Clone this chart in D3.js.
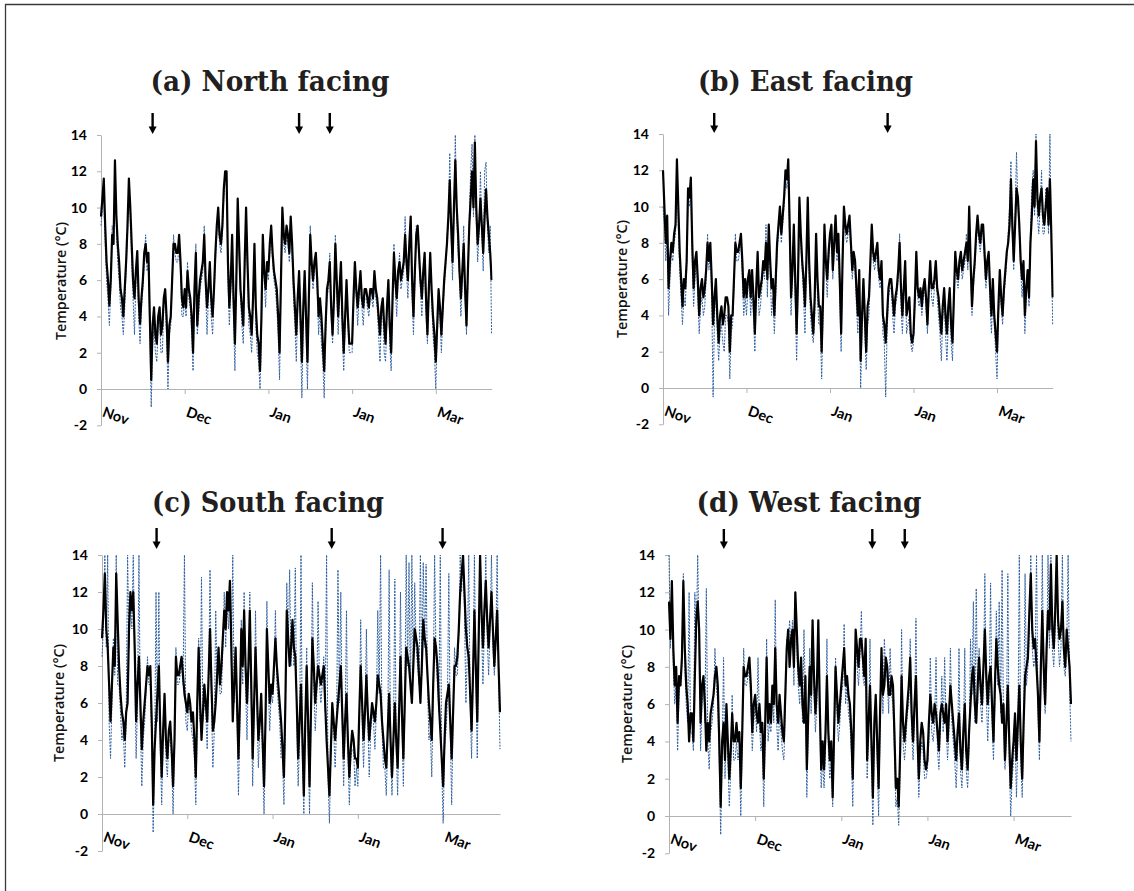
<!DOCTYPE html>
<html><head><meta charset="utf-8">
<script src="https://cdn.jsdelivr.net/npm/d3@7"></script>
<style>body{margin:0;background:#fff} svg{display:block}</style>
</head><body>
<svg id="c" width="1134" height="891"></svg>
<script>
// ---------- data ----------
const monthLabels = ["Nov","Dec","Jan","Jan","Mar"];
const monthTickIndex = [0,60,120,180,240];
const yTicks = [-2,0,2,4,6,8,10,12,14];
const panelTitles = ["(a) North facing","(b) East facing","(c) South facing","(d) West facing"];
const yAxisTitle = "Temperature (\u00B0C)";

const northBlack = [
 9.5,10.5,11.6,9,7,6,4.6,6,8.5,8,12.6,9.6,8,7,5.5,5,4,5.5,7,9,
 11.6,10,8,6,5,6.5,7.6,5,3.6,5,6,7.5,8,7,7.5,4,0.5,3.5,4.5,3,
 2.5,4,4.5,3,3.5,5,5.5,4,1.5,3.5,4,6,8,8,7.5,7.5,8.5,7,5,4.5,
 5.5,4.5,6.5,5.5,5,4,2,5.5,7.5,3.5,5,6,6.5,7,8.5,6,4.5,5.5,7,5,
 4,5.5,7.5,9,10,8.5,8,9,11,12,12,7,4.5,6,8.5,5,2.5,6,10.5,8,
 5.5,4.5,3.5,7,10,7,4.5,4,3,5,8,4.5,3,2.5,1,4,8.5,6.5,5.5,7,
 6.5,8,9,7.5,6.5,6,5.5,4,2,6,10,8.5,8,9,8.5,7.5,9.5,8,6,4.5,
 3,5,6.5,4,1.5,4.5,6.5,4,1.5,5,8.5,7,6,7,7.5,6,4,5,4,2.5,
 1,3.5,5.5,6,7,4.5,3,5,8,6,4,5.5,7,4,2,4,6,4,2.5,2.5,
 2.5,5,7,5.5,4.5,5.5,6.5,5,4.5,5.5,5.5,5,4.5,5.5,5.5,5,6.5,5.5,5,4,
 3,4.5,5,3.5,2.5,4.5,6,3.5,2,5,7.5,6,5,6.5,7,6,6.5,7,8.5,7,
 6,8,9.5,6,4,6.5,8.5,9,7.5,6,5,6.5,7.5,5,3,5.5,7.5,5.5,4,3,
 1.5,3.5,5.5,4.5,3,4.5,6,7,8,9.5,11.5,9,7,10,12.6,10,8.5,6.5,5,6.5,
 8,5.5,3.5,6.5,9,10.5,12,10,13.6,10,8,9,10.5,9,7.5,9.5,11,9.5,8.5,7.5,
 6];
const northBlue = [
 9,10,10.5,8,6,5,3.5,5.5,9,8.5,12,9,7,6,4.5,4,3,4.5,6.5,8.5,
 11,9.5,7,5,3,6,7,4,2.5,4.5,5.5,7,8.5,6.5,7,3,-1,2.5,3.5,2,
 1.5,3.5,4,2,2,4.5,5,3,0,3,3.5,6,8.5,7.5,7,7,8,6.5,4,4,
 5,4,7,5,4.5,3,1,5,8,3,4,5.5,6,6.5,9,5.5,3,5,6.5,4,
 3,5,7,8.5,9.5,8,7.5,8.5,10.5,11.5,12,6,3.5,5.5,8,4,1,5.5,10,7.5,
 5,3.5,2.5,6.5,9.5,6.5,3.5,3,2,4.5,7.5,3.5,2,1.5,0,3,8.5,6,4.5,6.5,
 6,7.5,9,7,6,5.5,4.5,3,0.5,5.5,9.5,8,7.5,8.5,8,7,9,7.5,5,3.5,
 1.5,4.5,6,3,-0.5,3.5,6,3,0,4.5,9,6.5,5.5,6.5,7,5.5,3,4.5,2.5,1.5,
 -0.5,3,5,5.5,7.5,4,2.5,4.5,8.5,5.5,3,5,7,3,1,3.5,5.5,3.5,2,2,
 2,4.5,6.5,5,3.5,5,6,4.5,3.5,5,5,4.5,4,5,5,4.5,6,5,4.5,3,
 1.5,4,4.5,2,1.5,4,5.5,2.5,1,4.5,8,5.5,4,6,7.5,5.5,6,6.5,9.5,6.5,
 5,7.5,9.5,5,3,6,9,8.5,7,5.5,4,6,7,4,2.5,5,7,5,3,2,
 0,3,4.5,4,2,4,5.5,6.5,8.5,9,13,8.5,6,9.5,14,9.5,7.5,6,4,6,
 9,5,3,6,9.5,12,13.5,9.5,14,9.5,7,8.5,12,8.5,6.5,12,12.5,9,7.5,9,
 3];

const eastBlack = [
 12,10,8,9.5,5.5,7,8,7.5,8.5,9,12.6,10,7.5,6,4.5,6,5.5,7,11,10.5,
 11.6,8,5.5,7,7.5,6,4,5.5,6,5,5.5,6.5,8,7,8,6,3.5,5,6,4,
 2.5,4,4.5,3.5,4,5,5,4.5,2,4,4,6,8,7.5,7.5,8,8.5,7,5,6,
 5,6,6.5,5,6.5,5,3,5.5,7.5,5,5.5,6,7,6.5,8,6,9,7,5.5,6,
 4,6,8,9,10,8.5,9.5,10.5,12,11.5,12.6,9,5,6.5,9,6,3,6,10.5,8.5,
 7,6,4.5,7,10.5,7,5,4,3,5,8.5,6,4.5,4.5,2,5,9,7,6,7.5,
 8.5,9,6.5,8,9.5,7.5,8.5,6,3,7,10,9,8.5,9,9.5,8,6.5,7.5,7,5.5,
 4,6.5,1.5,4,6,4,2,4.5,5,7,9,7.5,7,7.5,8,6.5,6,7,4,3.5,
 2.5,4,5.5,6,6,5,4,5,5.5,6.5,8,5.5,4,5.5,7,4,4.5,5,3,2.5,
 3,5,7.5,5.5,5,5.5,4.5,5.5,6,5,3.5,5.5,7,5.5,5.5,6,7,5.5,5,4,
 3,4.5,5.5,4,3,4.5,5.5,3.5,2.5,5,7.5,6.5,6,7,7.5,6.5,7,7.5,8,7,
 10,7,4.5,6,7,8.5,9.5,8.5,8,9,9,7.5,6,7,7.5,5.5,4,6,4,3,
 2,4.5,6.5,5,4,5.5,6.5,7.5,8,9,11.5,9,7,9,11,10.5,9,7,6,7,
 4,5.5,6.5,5,8,9.5,11.5,10,13.6,10.5,9.5,10.5,11,9.5,9,10,11,9,11.5,8.5,
 5];
const eastBlue = [
 10,9,7,8.5,4,6,7.5,7,8,8.5,12,9,6.5,5,3.5,5,4.5,6.5,10.5,10,
 11,7,4.5,6,7,5,3,4.5,5,4,4.5,6,8.5,6.5,7.5,5,-0.5,4,5.5,3,
 1.5,3,3.5,2.5,2,4,4,3.5,0.5,3,3.5,5.5,8.5,7,7,7.5,8,6,4,5,
 4,5.5,6,4,5.5,4,2,5,7,4,4.5,5.5,6.5,6,9,5,8.5,6.5,4,5,
 3,5,7.5,8.5,9.5,8,9,10,11.5,11,12,8,4,6,8.5,5,1.5,5,10,8,
 6.5,5,3,6.5,10,6,4,3,2.5,4,8,5,3.5,3.5,0.5,4,8.5,6.5,5,7,
 8,8.5,6,7.5,9,7,8,5,2,6.5,9.5,8.5,8,8.5,9,7.5,6,7,6.5,4.5,
 3,6,0,3,5.5,3,1,3.5,4,6.5,8.5,7,6.5,7,7.5,6,5.5,6.5,3,2.5,
 -0.5,3,5,5.5,5.5,4,3,4.5,5,6,8.5,4.5,3,5,6.5,3,3.5,4,2.5,2,
 2.5,4.5,7,5,4.5,5,4,5,5.5,4.5,3,5,6.5,5,4.5,5.5,6.5,5,4,3,
 1.5,4,5,3,1.5,3.5,5,2.5,1.5,4.5,7,6,5.5,6.5,7,6,6.5,7,8.5,6.5,
 9.5,6.5,4,5.5,6.5,8,9,8,7.5,8.5,8.5,7,5.5,6.5,7,4.5,3,5.5,3.5,2,
 0.5,4,6,4.5,3.5,5,6,7,8.5,10,12.5,8.5,6.5,9.5,13,10,8.5,6.5,5,6.5,
 3,5,6,4.5,8.5,11,12,9.5,14,9.5,8.5,10,12,8.5,8.5,11,10.5,8.5,14,8,
 3.5];

const southBlack = [
 9.5,11,13,10,9,7,5,7,9,8,13,10.5,8,6.5,5.5,5,4,5.5,6,10,
 12,11,12,9,5,7,8.5,6,3.5,5,6,7,8,7.5,8,5,0.5,3.5,5,6.5,
 8,4.5,2,4.5,6.5,4,3,4.5,5,3.5,1.5,4,8.5,7.5,7.5,8,8.5,7.5,6.5,6,
 5.5,6.5,6,5,5.5,4,2,6,9,6,4,5.5,7,6,5,7.5,10,7,4.5,5,
 6,7.5,9,7,8,9.5,11,10,12,11,12.6,9,5,7,9,6,3,6,10,8,
 11,8,6,8,11,7,3,6,9,6.5,4,5,6.5,4,1.5,5,10,8,6,7,
 6.5,8,9.5,8,7,6,5,3.5,2,6,11,9.5,8,9,10.5,9,8.5,6,3,5,
 7,4,1,5,8,5,1.5,5.5,9.5,8,6,7,8,7.5,7,7.5,8,6,4,2.5,
 1,3.5,6,5,4,5,6,7,8,5.5,3,5,6.5,4,2,3.5,4.5,4,3,3,
 2.5,5.5,8,6,4,5.5,7.5,5.5,4,5,6,5.5,5,6,7.5,7,6.5,5,4,3,
 2.5,4.5,6.5,4,2,4,6,4,2.5,5.5,8.5,5.5,3,6,9,8.5,8,7,6,8,
 10,9.5,9,7.5,6,8,10.5,9.5,9,7.5,6,5,4,7,9.5,9,8,6,4.5,3,
 1.5,4,6,6.5,7,5,3,5.5,8,8,8.5,10,12,13,14,12,10,9,8.5,6.5,
 4.5,7.5,11,8,5,9.5,14,11,9,11,12.6,10.5,9,10.5,12,10,8,9.5,11,8,
 5.5];
const southBlue = [
 8.5,10,14,9,14,5,3,6,9.5,7.5,14,7,7,5.5,4,4.5,2.5,5,14,9,
 11.5,10,14,8,3,6,14,5,1.5,4,5,6.5,8.5,7,7,4,-1,3,12,5,
 12,3.5,0.5,4,6,3,2,4,4,3,0,3.5,9,7,7,7.5,8,7,14,5,
 4.5,6,5.5,4.5,4,3,0.5,5,9.5,5,12.8,5,6,5.5,3.5,7,13.2,6,2.5,4.5,
 11,7,8.5,6.5,6.5,9,12,9,11.5,10,12,8,14,6,8,5,1,5,10.5,7,
 12,7,4,7.5,12,6,1.5,5,11,6,2.5,4.5,6,3,0,4,11.5,7,4.5,6.5,
 6,7.5,11,7,6,5,3,3,0.5,5.5,12.5,9,13.2,8,10,8,13.3,5,1.5,4,
 14,3,0,4.5,9,4,0,5,12.5,7,4.5,6,11.5,7,6,7,8.5,5.5,14,2,
 -0.5,3,5,4.5,2.5,4.5,13.2,6,12,5,1.5,4.5,11,3.5,0.5,3,3.5,3.5,1.5,2.5,
 1.5,5,10.5,5,2.5,5,10,5,2,4.5,5.5,5,3.5,5.5,11,6.5,14,4.5,2.5,2.5,
 1,4,13.2,3.5,1,3.5,12.7,3.5,1,5,12,5,1.5,5.5,14,8,13.6,6.5,14,7.5,
 12.5,9,8,7,14,7.5,13.6,9,13.5,7,4,4.5,2,6.5,14,8.5,7,5.5,14,2.5,
 -0.5,3.5,4.5,6,13,4.5,0.5,5,9,7.5,7.5,9.5,14,12,14,11,6,8.5,14,6,
 3,7,14,7.5,3,9,14,10,7,10,14,9.5,7.5,10,14,9,7.5,9,14,7.5,
 3.5];

const westBlack = [
 11.5,9.5,12.6,9,7,8,5,7.5,7,8.5,12.6,9,7,6,4,5.5,5.5,4,7.5,10.5,
 11.5,10,5,7,7.5,6,3.5,5,4,5.5,6,6.5,7.5,8,7,4,0.5,4,5,3,
 6,4,2,3.5,5.5,4,4,5,4,4.5,1.5,4.5,8,7.5,7.5,8,8.5,7,4.5,6,
 6.5,5.5,5,6,4.5,5,2,5,8.5,5,6,5,7,6,9,6,5,6.5,5.5,4.5,
 4,6.5,9,10,8,9.5,10,8,12,10,8,7,8.5,6,5,7.5,2.5,5.5,8,6.5,
 10.5,7.5,5.5,7,10.5,6,2.5,4,2.5,4.5,7.5,4.5,3,4,1,4.5,8,6.5,5,6,
 7,8,9,7,7.5,6.5,6,4.5,2,6,10,9,8,9.5,9.5,8.5,7.5,9.5,3,5,
 7,4,1,5,6.5,4,1.5,5.5,9,6.5,7,8.5,8,6.5,6.5,7.5,7,4.5,1.5,2,
 0.5,3.5,7.5,5,4,5,6,7,8.5,5.5,4,6,7.5,4.5,2,4,5,4.5,3,2.5,
 3,5,6.5,5.5,5,6,5.5,4.5,3.5,5.5,6,5.5,5,6,4,5.5,7,6,5,4,
 3,4.5,5.5,3.5,2.5,4.5,6,3.5,2.5,4.5,6,7.5,8,6,5,7,8.5,7,6,8,
 10,7.5,6,7.5,8,6,4,7,9.5,8,7,6.5,5,6,3,5,7,4,1.5,3,
 4,5.5,3,5,7,4,2,5,7.5,8,8.5,11,13,10,9,9.5,8,6.5,4,8,
 11,8,6,9,11,10,13.5,10,9,11,14,10.5,9.5,10,11.5,9,8,10,9,8,
 6];
const westBlue = [
 14,9,12,8,6,7,3.5,6.5,7.5,8,13,8,6,5,12,4.5,4.5,3.5,12,9.5,
 14,9,3.5,6,7,5,12.2,4,2.5,4.5,5,6,9,7,6,3,-1,3,8.5,2,
 5,3,0.5,2.5,6.5,3,3,4,3,3.5,0,3.5,9,7,7,7.5,8,6,3.5,5,
 6,4.5,8.5,5,3.5,4,0.5,4,9.5,4,5,4.5,6.5,5,11.6,5,3.5,5.5,4.5,3.5,
 3,5.5,9.5,9,10.5,9,10.5,7,12,9,7,6,8,5,10,6.5,1,4.5,9,5.5,
 10.5,6.5,4.5,6,10.5,5,1.5,3,1.5,3.5,9.5,3.5,2,3,0.5,3.5,8.5,5.5,4,5,
 6.5,7,10.3,6,7,5.5,5,3.5,0.5,5,10,8,7,8.5,11,7.5,7,8.5,2,4,
 9.5,3,-0.5,4,6,3,0,4.5,9,5.5,9.5,7.5,7.5,5.5,9,6.5,6,3.5,0.5,1,
 -0.5,2.5,10,4,3,4,5.5,6,9.5,4.5,3,5,10.6,3.5,1,3,4,3.5,2,2,
 2.5,4,8.5,4.5,4,5,8.5,3.5,2.5,4.5,7.5,4.5,8.5,5,3,4.5,9,5,4,3,
 1.5,3.5,9,2.5,1.5,3.5,9,2.5,1.5,3.5,9.5,6.5,11.5,5,12.2,6,9,6,5,7,
 13,6.5,4,6.5,12.5,5,3,6,11,7,11.5,5.5,13.2,5,2.5,4,13,3,0,2,
 3,4.5,1,4,14,3,1,4,13,7,8,10,14,9,8,8.5,14,5.5,3,7,
 14,7,5.5,8,14,9,14,9,8,10,14,9.5,8,9,14,8,7.5,9,14,7,
 4];

// arrow markers (position on the same index axis as the series)
const northArrows = [37, 142, 164];
const eastArrows = [36.8, 161.4];
const southArrows = [38.4, 161.6, 239.6];
const westArrows = [38.2, 141.6, 164.2];

// ---------- layout ----------
const xMaxIndex = 280;
const layouts = [
 {x0:101, x1:491.6, yTop:135, yZero:389, tx:270, ty:91, tw:239, ay:[113,134], ytx:60, yty:281},
 {x0:663, x1:1052.7, yTop:134, yZero:388, tx:805.5, ty:91, tw:215, ay:[113,133], ytx:621.7, yty:279},
 {x0:102, x1:500, yTop:555, yZero:814, tx:268, ty:512, tw:232, ay:[528,549], ytx:58.3, yty:703},
 {x0:669, x1:1071, yTop:555, yZero:816, tx:809, ty:512, tw:225, ay:[529,549], ytx:626.7, yty:704}
];
const panels = [
 {black:northBlack, blue:northBlue, arrows:northArrows},
 {black:eastBlack, blue:eastBlue, arrows:eastArrows},
 {black:southBlack, blue:southBlue, arrows:southArrows},
 {black:westBlack, blue:westBlue, arrows:westArrows}
];

const svg = d3.select("#c");
svg.append("rect").attr("width",1134).attr("height",891).attr("fill","#fff");
svg.append("path").attr("d","M5.5,891 V4.5 H1134").attr("fill","none")
  .attr("stroke","#3a3a3a").attr("stroke-width",1.3);

const axisGray = "#b3b3b3";
const labelFont = "Lato, 'Open Sans', sans-serif";

panels.forEach((p, k) => {
  const L = layouts[k];
  const yBottom = L.yZero + 2*(L.yZero - L.yTop)/14;
  const x = d3.scaleLinear().domain([0, xMaxIndex]).range([L.x0, L.x1]);
  const y = d3.scaleLinear().domain([-2, 14]).range([yBottom, L.yTop]);
  const g = svg.append("g");

  // title
  g.append("text").attr("x", L.tx).attr("y", L.ty).attr("text-anchor","middle")
    .attr("font-family","'DejaVu Serif', serif").attr("font-weight","bold").attr("font-size",27)
    .attr("textLength", L.tw).attr("lengthAdjust","spacingAndGlyphs")
    .attr("fill","#231f20").text(panelTitles[k]);

  // y axis
  const ya = g.append("g").attr("transform",`translate(${L.x0},0)`)
    .call(d3.axisLeft(y).tickValues(yTicks).tickSize(4).tickSizeOuter(0).tickPadding(10)
      .tickFormat(d => String(d)));
  ya.select(".domain").attr("stroke", axisGray);
  ya.selectAll(".tick line").attr("stroke", axisGray);
  ya.selectAll(".tick text").attr("font-family", labelFont).attr("font-weight","bold")
    .attr("font-size",14).attr("fill","#000");

  // x axis at y=0
  const xa = g.append("g").attr("transform",`translate(0,${y(0)})`)
    .call(d3.axisBottom(x).tickValues(monthTickIndex).tickSize(5).tickSizeOuter(0).tickFormat(""));
  xa.select(".domain").attr("stroke", axisGray);
  xa.selectAll(".tick line").attr("stroke", axisGray);
  g.selectAll(null).data(monthTickIndex).enter().append("text")
    .attr("transform",(d)=>`translate(${x(d)+0.5},${y(0)+27}) rotate(20)`)
    .attr("font-family", labelFont).attr("font-weight","bold").attr("font-size",14.5)
    .attr("fill","#000").text((d,i)=>monthLabels[i]);

  // y axis title
  g.append("text").attr("transform",`translate(${L.ytx},${L.yty}) rotate(-90)`)
    .attr("text-anchor","middle").attr("dominant-baseline","central")
    .attr("font-family","'Open Sans', sans-serif").attr("font-size",14).attr("font-weight",600)
    .attr("textLength",118).attr("lengthAdjust","spacingAndGlyphs")
    .attr("fill","#111").text(yAxisTitle);

  // clip
  const cid = "clip"+k;
  svg.append("clipPath").attr("id",cid).append("rect")
    .attr("x",L.x0-1).attr("y",L.yTop).attr("width",L.x1-L.x0+2).attr("height",yBottom-L.yTop);

  const line = d3.line().x((d,i)=>x(i)).y(d=>y(d)).curve(d3.curveLinear);
  const lg = g.append("g").attr("clip-path",`url(#${cid})`);
  lg.append("path").datum(p.blue).attr("d", line).attr("fill","none")
    .attr("stroke","#2f5f9e").attr("stroke-width",1).attr("stroke-dasharray","2,1.2");
  lg.append("path").datum(p.black).attr("d", line).attr("fill","none")
    .attr("stroke","#000").attr("stroke-width",2.2).attr("stroke-linejoin","round");

  // arrows
  p.arrows.forEach(a => {
    const ax = x(a), top = L.ay[0], bot = L.ay[1];
    g.append("line").attr("x1",ax).attr("x2",ax).attr("y1",top).attr("y2",bot-6)
      .attr("stroke","#000").attr("stroke-width",2.4);
    g.append("path").attr("d",`M${ax-4},${bot-7.5} L${ax+4},${bot-7.5} L${ax},${bot} Z`).attr("fill","#000");
  });
});
</script>
</body></html>
